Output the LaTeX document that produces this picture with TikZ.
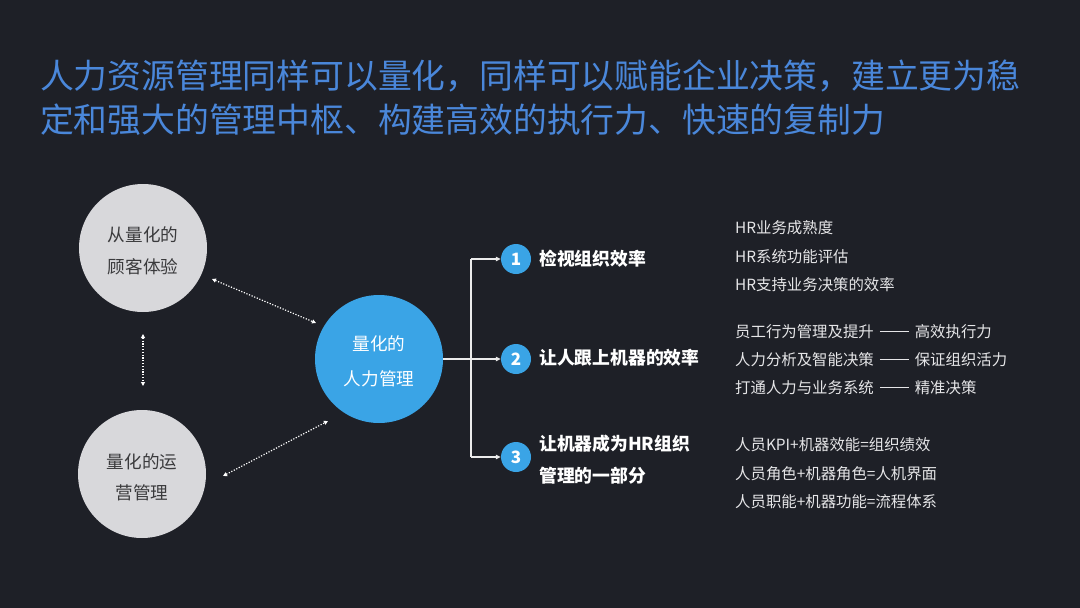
\documentclass[tikz,border=0pt]{standalone}
\usepackage{fontspec}
\setmainfont{Noto Sans CJK SC}
\usetikzlibrary{arrows.meta}
\definecolor{bgc}{HTML}{1E2027}
\definecolor{titlec}{HTML}{4A87DA}
\definecolor{bluec}{HTML}{3AA4E6}
\definecolor{grayc}{HTML}{D8D8DB}
\definecolor{graytxt}{HTML}{3A3A3C}
\definecolor{lighttxt}{HTML}{E6E6E8}
\newcommand{\dsh}{\hspace{6pt}\raisebox{0.36em}{\rule{29pt}{0.9pt}}\hspace{6pt}}
\tikzset{
  bigcirc/.style={circle, minimum size=128pt, inner sep=0pt},
  graycirc/.style={bigcirc, fill=grayc},
  bluecirc/.style={bigcirc, fill=bluec},
  numcirc/.style={circle, fill=bluec, minimum size=30pt, inner sep=0pt, text=white, font=\fontsize{17}{17}\selectfont\bfseries},
  dotarr/.style={white, line width=1.2pt, dash pattern=on 1.2pt off 1.6pt, {Triangle[length=4pt,width=4pt]}-{Triangle[length=4pt,width=4pt]}},
  treeline/.style={white!92!black, line width=1.2pt},
  treearr/.style={treeline, -{Triangle[length=5pt,width=4.5pt]}},
  lbl/.style={anchor=west, inner sep=0pt, text=white, font=\fontsize{17.8}{17.8}\selectfont\bfseries},
  item/.style={anchor=west, inner sep=0pt, text=lighttxt, font=\fontsize{15.4}{15.4}\selectfont},
  ttl/.style={anchor=west, inner sep=0pt, text=titlec, font=\fontsize{33.8}{33.8}\selectfont},
  ctxt/.style={inner sep=0pt, font=\fontsize{17.6}{17.6}\selectfont}
}
\begin{document}
\begin{tikzpicture}[x=1pt,y=-1pt]
\fill[bgc] (0,0) rectangle (1080,608);
\useasboundingbox (0,0) rectangle (1080,608);

% title
\node[ttl] (t1) at (40,76) {人力资源管理同样可以量化，同样可以赋能企业决策，建立更为稳};
\node[ttl] (t2) at (40,120) {定和强大的管理中枢、构建高效的执行力、快速的复制力};

% circles
\node[graycirc] (cx) at (143,248) {};
\node[ctxt, text=graytxt] (cx1) at (143,235) {从量化的};
\node[ctxt, text=graytxt] (cx2) at (143,267) {顾客体验};

\node[graycirc] (yy) at (142,474) {};
\node[ctxt, text=graytxt] (yy1) at (142,462) {量化的运};
\node[ctxt, text=graytxt] (yy2) at (142,493) {营管理};

\node[bluecirc] (hr) at (379,359) {};
\node[ctxt, text=white] (hr1) at (379,344) {量化的};
\node[ctxt, text=white] (hr2) at (379,379) {人力管理};

% dotted arrows
\coordinate (a1) at (212,279);
\coordinate (a2) at (316,323);
\draw[dotarr] (a1) -- (a2);
\coordinate (b1) at (143,334);
\coordinate (b2) at (143,386);
\draw[dotarr] (b1) -- (b2);
\coordinate (c1) at (223,476);
\coordinate (c2) at (328,421);
\draw[dotarr] (c1) -- (c2);

% numbered circles
\node[numcirc] (n1) at (516,259) {1};
\node[numcirc] (n2) at (516,359) {2};
\node[numcirc] (n3) at (516,457) {3};

% tree
\coordinate (j) at (471,359);
\coordinate (j1) at (471,259);
\coordinate (j3) at (471,457);
\draw[treeline] (hr.east) -- (j);
\draw[treeline] (j1) -- (j3);
\draw[treearr] (j1) -- (n1.west);
\draw[treearr] (j) -- (n2.west);
\draw[treearr] (j3) -- (n3.west);

% labels
\node[lbl] (l1) at (539,259) {检视组织效率};
\node[lbl] (l2) at (539,358) {让人跟上机器的效率};
\node[lbl] (l3a) at (539,444) {让机器成为HR组织};
\node[lbl] (l3b) at (539,476) {管理的一部分};

% right items
\node[item] (i1) at (735,228) {HR业务成熟度};
\node[item] (i2) at (735,257) {HR系统功能评估};
\node[item] (i3) at (735,285) {HR支持业务决策的效率};

\node[item] (i4) at (735,332) {员工行为管理及提升\dsh 高效执行力};
\node[item] (i5) at (735,360) {人力分析及智能决策\dsh 保证组织活力};
\node[item] (i6) at (735,388) {打通人力与业务系统\dsh 精准决策};

\node[item] (i7) at (735,445) {人员KPI+机器效能=组织绩效};
\node[item] (i8) at (735,474) {人员角色+机器角色=人机界面};
\node[item] (i9) at (735,502) {人员职能+机器功能=流程体系};
\end{tikzpicture}
\end{document}
